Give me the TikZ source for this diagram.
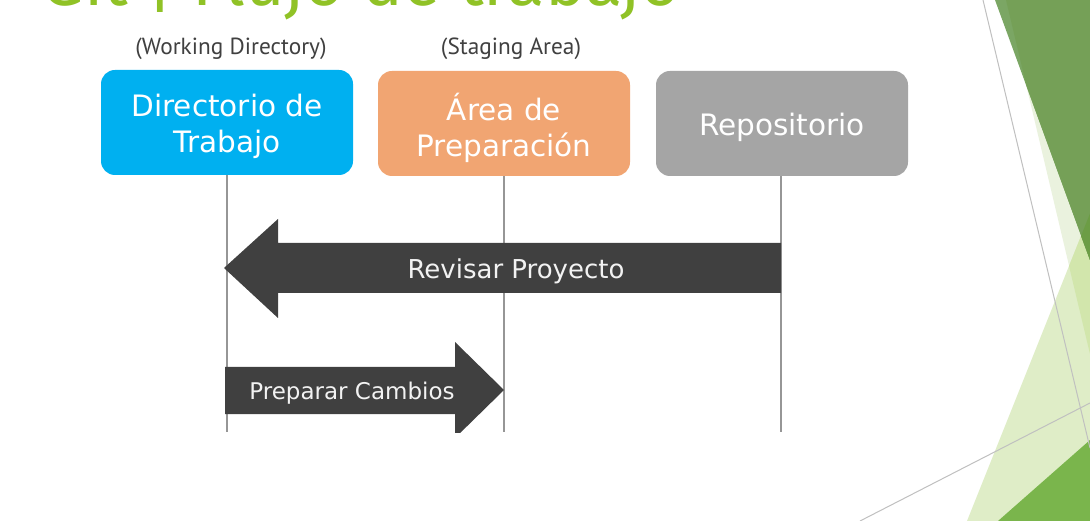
\documentclass[tikz,border=0pt]{standalone}
\usepackage{fontspec}
\newfontfamily\boxfont{DejaVu Sans}
\newfontfamily\labfont{PT Sans}
\newfontfamily\titlefont{Fira Sans}
\definecolor{wdblue}{RGB}{0,176,240}
\definecolor{stsalmon}{RGB}{241,165,114}
\definecolor{repgray}{RGB}{165,165,165}
\definecolor{arrgray}{RGB}{64,64,64}
\definecolor{labgray}{RGB}{64,64,64}
\definecolor{lifegray}{RGB}{150,150,150}
\definecolor{titlegreen}{RGB}{144,194,38}
\definecolor{gA}{RGB}{234,242,222}
\definecolor{gB}{RGB}{223,237,199}
\definecolor{gAB}{RGB}{210,230,172}
\definecolor{gD}{RGB}{123,166,100}
\definecolor{gDA}{RGB}{117,160,87}
\definecolor{gDB}{RGB}{108,157,69}
\definecolor{gC}{RGB}{122,181,76}
\definecolor{thin}{RGB}{192,192,192}
\begin{document}
\begin{tikzpicture}[x=1pt,y=-1pt,
  stage/.style={rounded corners=14pt, minimum width=252pt, minimum height=105pt,
    inner sep=0pt, text=white, align=center,
    font=\boxfont\fontsize{29.5}{36}\selectfont},
  stagetext/.style={inner sep=0pt, text=white, align=center,
    font=\boxfont\fontsize{29.5}{36}\selectfont},
  lab/.style={inner sep=0pt, text=labgray, font=\labfont\fontsize{23.3}{27}\selectfont},
  life/.style={draw=lifegray, line width=1.3pt},
  blockarrow/.style={fill=arrgray, draw=none},
  arrtext/.style={inner sep=0pt, text=white!95!black},
  thinline/.style={draw=thin, line width=1pt}]
\useasboundingbox (0,0) rectangle (1090,521);
\clip (0,0) rectangle (1090,521);
\fill[white] (0,0) rectangle (1090,521);

% right-hand decoration
\fill[gA] (1006,0) -- (1090,0) -- (1090,354) -- cycle;
\fill[gB] (967,521) -- (1090,213.5) -- (1090,521) -- cycle;
\fill[gAB] (1069,266) -- (1081,236) -- (1090,260) -- (1090,354) -- cycle;
\fill[gD] (995,0) -- (1090,0) -- (1090,260) -- cycle;
\fill[gDA] (1006,0) -- (1090,0) -- (1090,260) -- (1026.5,86) -- cycle;
\fill[gDB] (1081,236) -- (1090,213.5) -- (1090,260) -- cycle;
\fill[gC] (998,521) -- (1090,440) -- (1090,521) -- cycle;
\coordinate (t1a) at (983,0);
\coordinate (t1b) at (1090,448);
\coordinate (t2a) at (860,521);
\coordinate (t2b) at (1090,403);
\draw[thinline] (t1a) -- (t1b);
\draw[thinline] (t2a) -- (t2b);

% title (cut by the top edge, as in the slide)
\node[anchor=base west, inner sep=0pt, text=titlegreen,
  font=\titlefont\fontsize{68.5}{68.5}\selectfont] (title) at (41,6) {Git | Flujo de trabajo};

% stage boxes
\node[stage, fill=wdblue] (wd) at (227,122.5) {};
\node[stage, fill=stsalmon] (sa) at (504,123.5) {};
\node[stage, fill=repgray] (rp) at (782,123.5) {};
\node[stagetext, yshift=-4pt] (wdt) at (wd.center) {Directorio de\\Trabajo};
\node[stagetext, yshift=-4pt] (sat) at (sa.center) {Área de\\Preparación};
\node[stagetext, yshift=-4pt] (rpt) at (rp.center) {Repositorio};

\node[lab] (wdlab) at (231,49) {(Working Directory)};
\node[lab] (salab) at (511,49) {(Staging Area)};

\begin{scope}
\clip (0,0) rectangle (1090,432);
\coordinate (wdend) at (227,432);
\coordinate (saend) at (504,432);
\coordinate (rpend) at (781,432);
\draw[life] (wd.south) -- (wdend);
\draw[life] (sa.south) -- (saend);
\draw[life] (rp.south -| rpend) -- (rpend);

% Revisar Proyecto (repository -> working directory)
\fill[blockarrow] (224,268) -- (278,219) -- (278,243) -- (781,243) -- (781,293)
  -- (278,293) -- (278,318) -- cycle;
% Preparar Cambios (working directory -> staging area)
\fill[blockarrow] (225,367) -- (455,367) -- (455,342) -- (504,390) -- (455,438)
  -- (455,414) -- (225,414) -- cycle;
\end{scope}

\node[arrtext, font=\boxfont\fontsize{26}{31}\selectfont] (rev) at (516,271) {Revisar Proyecto};
\node[arrtext, font=\boxfont\fontsize{23}{28}\selectfont] (prep) at (352,393) {Preparar Cambios};
\end{tikzpicture}
\end{document}
